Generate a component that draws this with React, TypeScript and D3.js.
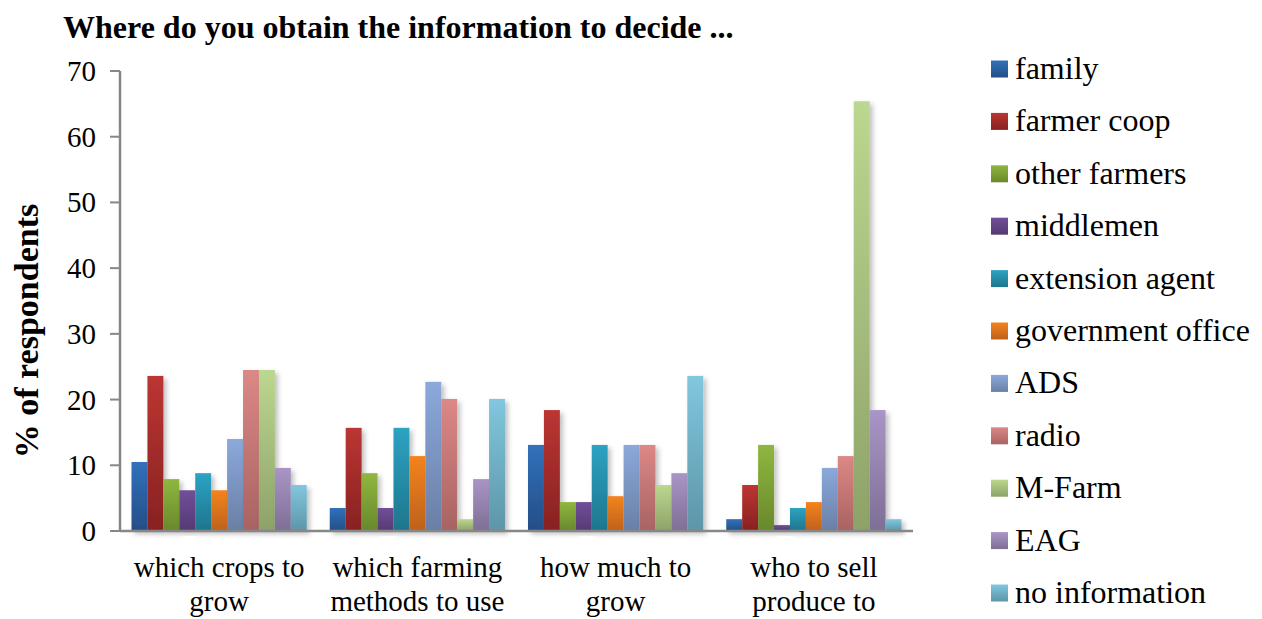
import React from "react";
import * as d3 from "d3";

const categories = [
  ["which crops to", "grow"],
  ["which farming", "methods to use"],
  ["how much to", "grow"],
  ["who to sell", "produce to"],
];
const seriesNames = [
  "family", "farmer coop", "other farmers", "middlemen", "extension agent",
  "government office", "ADS", "radio", "M-Farm", "EAG", "no information",
];
const family = [10.5, 3.5, 13.1, 1.8];
const farmerCoop = [23.6, 15.7, 18.4, 7.0];
const otherFarmers = [7.9, 8.8, 4.4, 13.1];
const middlemen = [6.2, 3.5, 4.4, 0.9];
const extensionAgent = [8.8, 15.7, 13.1, 3.5];
const governmentOffice = [6.2, 11.4, 5.3, 4.4];
const ads = [14.0, 22.7, 13.1, 9.6];
const radio = [24.5, 20.1, 13.1, 11.4];
const mFarm = [24.5, 1.8, 7.0, 65.4];
const eag = [9.6, 7.9, 8.8, 18.4];
const noInformation = [7.0, 20.1, 23.6, 1.8];
const yTicks = [0, 10, 20, 30, 40, 50, 60, 70];

const seriesValues = [family, farmerCoop, otherFarmers, middlemen, extensionAgent,
  governmentOffice, ads, radio, mFarm, eag, noInformation];

const colors: [string, string][] = [
  ["#3171BB", "#244E86"],
  ["#BC3532", "#872222"],
  ["#8FB73F", "#68882C"],
  ["#714F99", "#553A72"],
  ["#2DA3C2", "#1E758D"],
  ["#F3841F", "#BE611A"],
  ["#8BA9DC", "#6A7FA5"],
  ["#DC8886", "#A86362"],
  ["#BCD78F", "#8DA269"],
  ["#A995C6", "#7E6F95"],
  ["#81C7DE", "#5D95A8"],
];

const FONT = "'Liberation Serif', 'Times New Roman', serif";

export default function App() {
  const W = 1262, H = 619;
  const left = 120, right = 913, top = 71, bottom = 531;
  const x = d3.scaleBand<number>().domain(d3.range(categories.length)).range([left, right]);
  const inner = d3.scaleBand<number>().domain(d3.range(seriesNames.length))
    .range([11.5, x.bandwidth() - 11.5]);
  const y = d3.scaleLinear().domain([0, 70]).range([bottom, top]);
  const axisColor = "#878787";

  return (
    <svg width={W} height={H} style={{ position: "absolute", left: 0, top: 0, background: "#fff" }}>
      <defs>
        {colors.map((c, i) => (
          <linearGradient key={i} id={`g${i}`} x1="0" y1="0" x2="0" y2="1">
            <stop offset="0" stopColor={c[0]} />
            <stop offset="1" stopColor={c[1]} />
          </linearGradient>
        ))}
        <filter id="sh" x="-20%" y="-5%" width="150%" height="115%">
          <feDropShadow dx="3" dy="3" stdDeviation="2.5" floodColor="#000" floodOpacity="0.25" />
        </filter>
      </defs>
      <text x={63} y={38} fontFamily={FONT} fontWeight="bold" fontSize={32} fill="#000">
        Where do you obtain the information to decide ...
      </text>
      <text transform={`translate(38,331) rotate(-90)`} textAnchor="middle"
        fontFamily={FONT} fontWeight="bold" fontSize={34} fill="#000">
        % of respondents
      </text>
      {yTicks.map((t) => (
        <g key={t}>
          <line x1={110} x2={left} y1={y(t)} y2={y(t)} stroke={axisColor} strokeWidth={2} />
          <text x={96} y={y(t) + 10} textAnchor="end" fontFamily={FONT} fontSize={29} fill="#000">{t}</text>
        </g>
      ))}
      {seriesValues.map((vals, s) => (
        <g key={s} filter="url(#sh)">
          {vals.map((v, c) => (
            <rect key={c} x={(x(c) as number) + (inner(s) as number)} y={y(v)}
              width={inner.bandwidth()} height={bottom - y(v)} fill={`url(#g${s})`} />
          ))}
        </g>
      ))}
      <line x1={left} x2={left} y1={top} y2={bottom + 1} stroke={axisColor} strokeWidth={2.5} />
      <line x1={left} x2={right} y1={bottom} y2={bottom} stroke={axisColor} strokeWidth={2.5} />
      {categories.map((lines, c) => (
        <text key={c} textAnchor="middle" fontFamily={FONT} fontSize={29} fill="#000">
          {lines.map((l, k) => (
            <tspan key={k} x={(x(c) as number) + x.bandwidth() / 2} y={577 + k * 34}>{l}</tspan>
          ))}
        </text>
      ))}
      {seriesNames.map((n, i) => (
        <g key={n} transform={`translate(991,${69 + i * 52.4})`}>
          <rect x={0} y={-8.5} width={17} height={17} fill={`url(#g${i})`} />
          <text x={24} y={10} fontFamily={FONT} fontSize={32} fill="#000">{n}</text>
        </g>
      ))}
    </svg>
  );
}
